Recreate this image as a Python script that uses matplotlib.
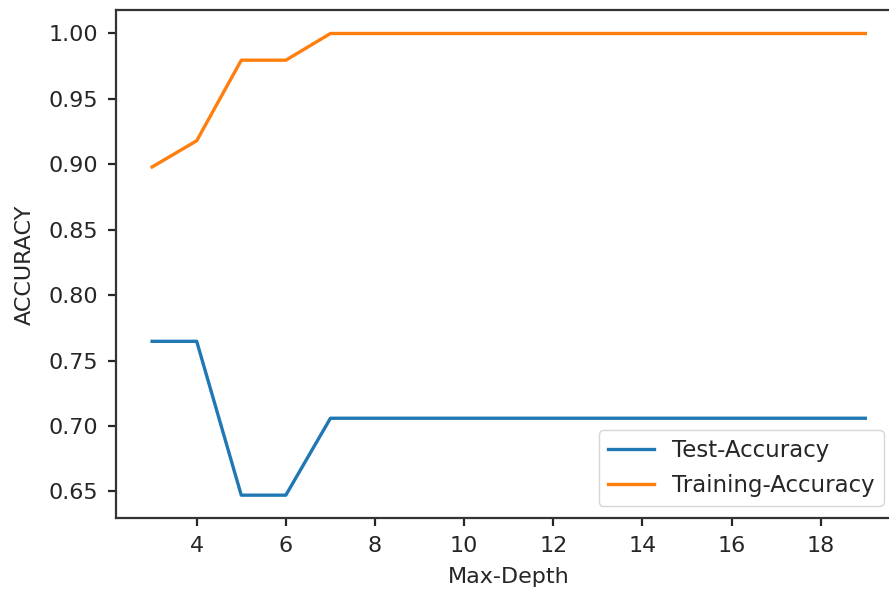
import matplotlib
matplotlib.use("Agg")
import matplotlib.pyplot as plt

max_depth = list(range(3, 20))
test_acc = [0.7647, 0.7647, 0.6471, 0.6471] + [0.7059] * 13
train_acc = [0.898, 0.918, 0.9796, 0.9796] + [1.0] * 13

plt.rcParams['font.size'] = 16
plt.rcParams['text.color'] = '#262626'
plt.rcParams['xtick.color'] = '#262626'
plt.rcParams['ytick.color'] = '#262626'
plt.rcParams['axes.labelcolor'] = '#262626'
fig = plt.figure(figsize=(8.89, 5.95), dpi=100)
ax = fig.add_axes([0.131, 0.129, 0.8825, 0.8535])
ax.plot(max_depth, test_acc, color='#1f77b4', lw=2.4, label='Test-Accuracy')
ax.plot(max_depth, train_acc, color='#ff7f0e', lw=2.4, label='Training-Accuracy')
ax.set_xlabel('Max-Depth', labelpad=8)
ax.set_ylabel('ACCURACY', labelpad=10)
ax.set_xticks([4, 6, 8, 10, 12, 14, 16, 18])
for s in ax.spines.values():
    s.set_linewidth(1.6)
    s.set_color('#333333')
ax.tick_params(width=1.6, length=6, pad=7)
ax.legend(loc='lower right', bbox_to_anchor=(0.978, 0.024), borderaxespad=0,
          fontsize=16.5, handlelength=2.0)
fig.savefig('out.png', dpi=100)
